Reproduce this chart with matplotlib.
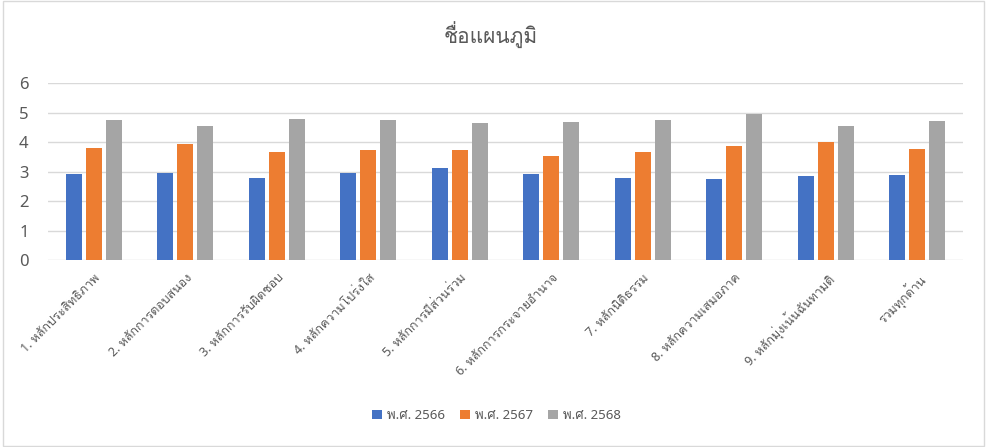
import matplotlib
matplotlib.use("Agg")
import matplotlib.pyplot as plt
import numpy as np
from matplotlib.patches import Rectangle

plt.rcParams['font.family'] = ['Noto Sans', 'Loma', 'Noto Sans Thai Looped', 'DejaVu Sans']

categories = [
    "1. หลักประสิทธิภาพ",
    "2. หลักการตอบสนอง",
    "3. หลักการรับผิดชอบ",
    "4. หลักความโปร่งใส",
    "5. หลักการมีส่วนร่วม",
    "6. หลักการกระจายอำนาจ",
    "7. หลักนิติธรรม",
    "8. หลักความเสมอภาค",
    "9. หลักมุ่งเน้นฉันทามติ",
    "รวมทุกด้าน",
]
y2566 = [2.92, 2.95, 2.78, 2.95, 3.12, 2.92, 2.78, 2.75, 2.85, 2.89]
y2567 = [3.80, 3.94, 3.67, 3.74, 3.74, 3.53, 3.67, 3.87, 4.01, 3.77]
y2568 = [4.75, 4.55, 4.79, 4.75, 4.65, 4.69, 4.75, 4.96, 4.55, 4.72]
series_names = ["พ.ศ. 2566", "พ.ศ. 2567", "พ.ศ. 2568"]
colors = ["#4472C4", "#ED7D31", "#A5A5A5"]
text_color = "#595959"

fig = plt.figure(figsize=(9.87, 4.47), dpi=100)
# outer chart border
fig.patches.append(Rectangle((0.003, 0.003), 0.994, 0.994, transform=fig.transFigure,
                             fill=False, edgecolor="#D9D9D9", linewidth=1))

ax = fig.add_axes([48 / 987, 1 - 260 / 447, (963 - 48) / 987, (260 - 83.3) / 447])

x = np.arange(len(categories))
step = 0.2186
width = 0.175
for i, (vals, name) in enumerate(zip([y2566, y2567, y2568], series_names)):
    ax.bar(x + (i - 1) * step, vals, width, color=colors[i], label=name, zorder=3)

ax.set_xlim(-0.5, len(categories) - 0.5)
ax.set_ylim(0, 6)
ax.set_yticks(range(0, 7))
ax.grid(axis="y", color="#D9D9D9", linewidth=1, zorder=0)
for s in ax.spines.values():
    s.set_visible(False)
ax.tick_params(axis="both", length=0, colors=text_color)
ax.tick_params(axis="y", labelsize=12, pad=14)
ax.set_xticks(x)
ax.set_xticklabels(categories, rotation=45, ha="right", rotation_mode="anchor",
                   fontsize=9, color=text_color)
ax.tick_params(axis="x", pad=8)

fig.text(0.497, 0.92, "ชื่อแผนภูมิ", ha="center", va="center", fontsize=15, color=text_color)

fig.legend(loc="center", bbox_to_anchor=(0.503, 0.07), ncol=3, frameon=False,
           fontsize=9.5, labelcolor=text_color, handlelength=0.75, handleheight=0.75,
           handletextpad=0.4, columnspacing=1.1)

fig.savefig("out.png")
